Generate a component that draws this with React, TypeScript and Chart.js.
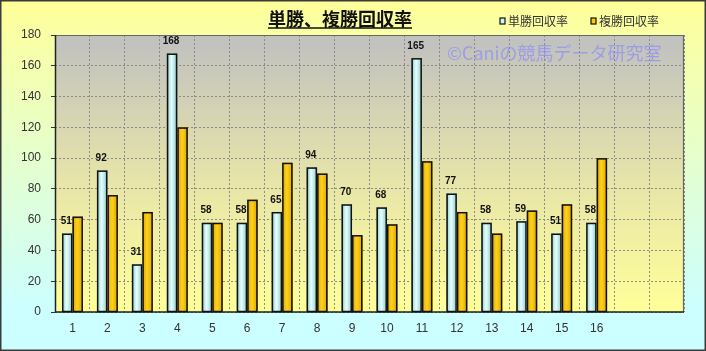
import React, { useEffect, useRef } from "react";
import { Chart, registerables } from "chart.js";

Chart.register(...registerables);

const categories = ["1", "2", "3", "4", "5", "6", "7", "8", "9", "10", "11", "12", "13", "14", "15", "16", "", ""];
const winRate = [51, 92, 31, 168, 58, 58, 65, 94, 70, 68, 165, 77, 58, 59, 51, 58, null, null];
const placeRate = [62, 76, 65, 120, 58, 73, 97, 90, 50, 57, 98, 65, 51, 66, 70, 100, null, null];
const yTicks = [0, 20, 40, 60, 80, 100, 120, 140, 160, 180];
const titleText = "単勝、複勝回収率";
const seriesNames = ["単勝回収率", "複勝回収率"];
const watermark = "©Caniの競馬データ研究室";

const W = 706;
const H = 351;
const JP = '"Noto Sans CJK JP", "Noto Sans", sans-serif';
const SANS = '"Liberation Sans", Arial, sans-serif';

const decorPlugin = {
  id: "decor",
  beforeDraw(chart: any) {
    const { ctx, chartArea: a } = chart;
    ctx.save();
    const g = ctx.createLinearGradient(0, 0, 0, H);
    g.addColorStop(0, "#FFFF99");
    g.addColorStop(0.88, "#CCFFFF");
    g.addColorStop(1, "#CCFFFF");
    ctx.fillStyle = g;
    ctx.fillRect(0, 0, W, H);
    const pg = ctx.createLinearGradient(0, a.top, 0, a.bottom);
    pg.addColorStop(0, "#C0C0C0");
    pg.addColorStop(0.55, "#E8E6A8");
    pg.addColorStop(1, "#FFFF99");
    ctx.fillStyle = pg;
    ctx.fillRect(a.left, a.top, a.right - a.left, a.bottom - a.top);
    ctx.restore();
  },
  beforeDatasetsDraw(chart: any) {
    const { ctx, chartArea: a } = chart;
    ctx.save();
    ctx.strokeStyle = "#666";
    ctx.lineWidth = 1.2;
    ctx.beginPath();
    ctx.moveTo(a.left, a.top + 0.5);
    ctx.lineTo(a.right - 0.5, a.top + 0.5);
    ctx.lineTo(a.right - 0.5, a.bottom);
    ctx.stroke();
    ctx.strokeStyle = "#222";
    ctx.lineWidth = 1.5;
    ctx.beginPath();
    ctx.moveTo(a.left + 0.5, a.top);
    ctx.lineTo(a.left + 0.5, a.bottom);
    ctx.lineTo(a.right, a.bottom);
    ctx.stroke();
    ctx.restore();
  },
  afterDatasetsDraw(chart: any) {
    const { ctx } = chart;
    ctx.save();
    const schemes = [
      ["#8CC8C8", "#E6FFFF", "#8CC8C8"],
      ["#D9A400", "#FFD21A", "#D9A400"],
    ];
    chart.data.datasets.forEach((ds: any, di: number) => {
      const meta = chart.getDatasetMeta(di);
      meta.data.forEach((el: any, i: number) => {
        if (ds.data[i] == null) return;
        const { x, y, base, width } = el.getProps(["x", "y", "base", "width"], true);
        const l = x - width / 2;
        const gr = ctx.createLinearGradient(l, 0, l + width, 0);
        gr.addColorStop(0, schemes[di][0]);
        gr.addColorStop(0.45, schemes[di][1]);
        gr.addColorStop(1, schemes[di][2]);
        ctx.fillStyle = gr;
        ctx.fillRect(l, y, width, base - y);
        ctx.strokeStyle = "#111";
        ctx.lineWidth = 1.5;
        ctx.strokeRect(l + 0.75, y + 0.75, width - 1.5, base - y - 0.75);
      });
    });
    const meta0 = chart.getDatasetMeta(0);
    ctx.fillStyle = "#111";
    ctx.font = "bold 10px " + SANS;
    ctx.textAlign = "center";
    ctx.textBaseline = "middle";
    meta0.data.forEach((el: any, i: number) => {
      const v = chart.data.datasets[0].data[i];
      if (v == null) return;
      const { x, y } = el.getProps(["x", "y"], true);
      ctx.fillText(String(v), x - 1, y - 12);
    });
    ctx.restore();
  },
  afterDraw(chart: any) {
    const { ctx } = chart;
    ctx.save();
    ctx.fillStyle = "#111";
    ctx.font = "bold 18px " + JP;
    ctx.textAlign = "center";
    ctx.textBaseline = "middle";
    const tw = ctx.measureText(titleText).width;
    const tx = 340;
    ctx.fillText(titleText, tx, 19);
    ctx.strokeStyle = "#111";
    ctx.lineWidth = 1.5;
    ctx.beginPath();
    ctx.moveTo(tx - tw / 2, 28);
    ctx.lineTo(tx + tw / 2, 28);
    ctx.stroke();
    const legendX = [500, 591];
    const legendFill = ["#CCF5F5", "#FFCC00"];
    ctx.font = "12px " + JP;
    ctx.textAlign = "left";
    legendX.forEach((lx, i) => {
      ctx.fillStyle = legendFill[i];
      ctx.fillRect(lx, 18, 5, 6);
      ctx.strokeStyle = "#111";
      ctx.lineWidth = 1.2;
      ctx.strokeRect(lx, 18, 5, 6);
      ctx.fillStyle = "#333";
      ctx.fillText(seriesNames[i], lx + 8, 21);
    });
    ctx.font = "18px " + JP;
    ctx.fillStyle = "rgba(140,140,250,0.7)";
    ctx.textAlign = "left";
    ctx.fillText(watermark, 447, 53);
    ctx.strokeStyle = "#3a3a3a";
    ctx.lineWidth = 1.5;
    ctx.strokeRect(0.75, 0.75, W - 1.5, H - 1.5);
    ctx.restore();
  },
};

export default function App() {
  const ref = useRef<HTMLCanvasElement>(null);
  useEffect(() => {
    if (!ref.current) return;
    const chart = new Chart(ref.current, {
      type: "bar",
      data: {
        labels: categories,
        datasets: [
          {
            label: seriesNames[0],
            data: winRate as any,
            backgroundColor: "#CCF5F5",
            borderColor: "#111",
            borderWidth: 1.5,
            categoryPercentage: 0.6,
            barPercentage: 1.0,
          },
          {
            label: seriesNames[1],
            data: placeRate as any,
            backgroundColor: "#FFCC00",
            borderColor: "#111",
            borderWidth: 1.5,
            categoryPercentage: 0.6,
            barPercentage: 1.0,
          },
        ],
      },
      options: {
        responsive: false,
        animation: false,
        devicePixelRatio: 1,
        layout: { padding: { left: 0, right: 22, top: 35, bottom: 0 } },
        plugins: {
          legend: { display: false },
          title: { display: false },
          tooltip: { enabled: false },
        },
        scales: {
          x: {
            offset: true,
            grid: {
              offset: true,
              color: "#8a8a8a",
              drawTicks: false,
            } as any,
            border: { display: false, dash: [2, 2] } as any,
            ticks: {
              color: "#333",
              font: { family: SANS, size: 12 },
              padding: 9,
              maxRotation: 0,
              autoSkip: false,
            },
            afterFit(scale: any) {
              scale.height = 39;
            },
          },
          y: {
            min: 0,
            max: 180,
            afterBuildTicks(scale: any) {
              scale.ticks = yTicks.map((v) => ({ value: v }));
            },
            grid: {
              color: "#8a8a8a",
              tickLength: 4,
              tickColor: "#333",
              tickBorderDash: [],
            } as any,
            border: { display: false, dash: [2, 2] } as any,
            ticks: {
              color: "#333",
              font: { family: SANS, size: 12 },
              padding: 10,
            },
            afterFit(scale: any) {
              scale.width = 55;
            },
          },
        },
      } as any,
      plugins: [decorPlugin],
    });
    return () => chart.destroy();
  }, []);
  return (
    <div style={{ position: "fixed", left: 0, top: 0, width: W, height: H }}>
      <canvas ref={ref} width={W} height={H} style={{ width: W, height: H, display: "block" }} />
    </div>
  );
}
